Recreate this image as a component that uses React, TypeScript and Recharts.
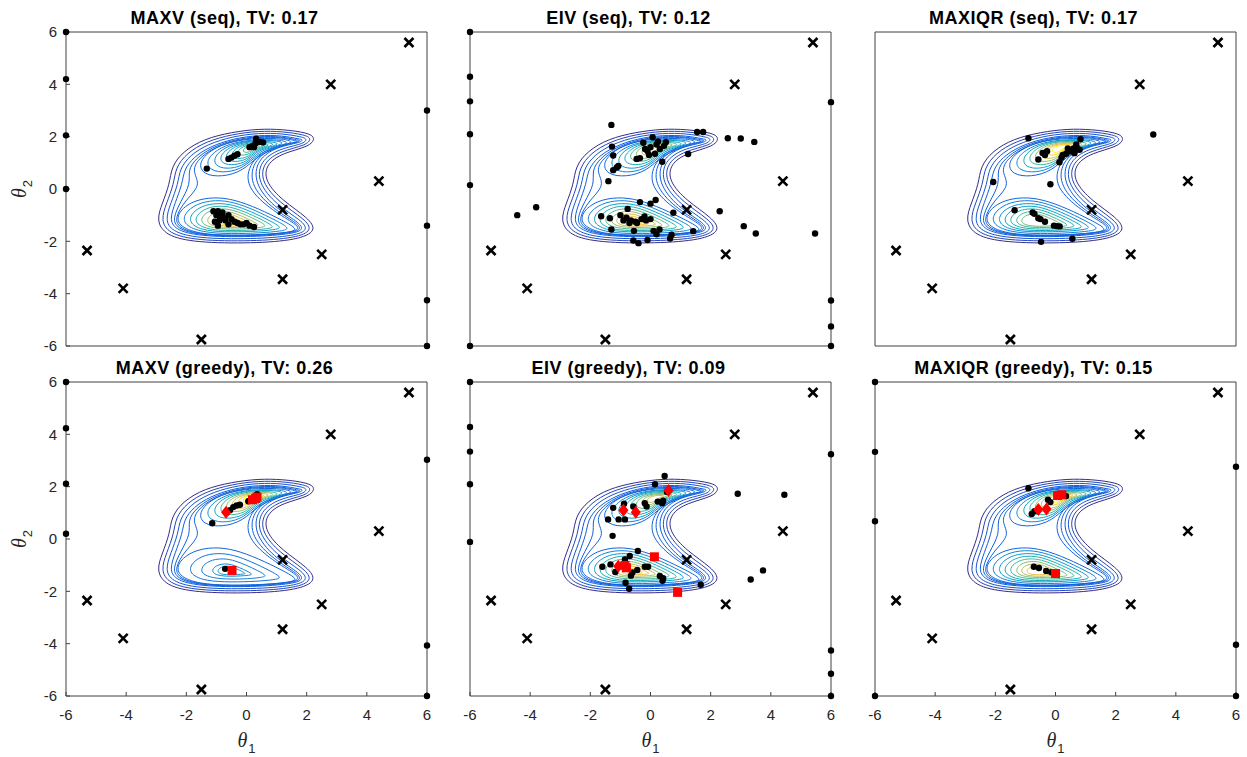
import React from 'react';
import { ComposedChart, Line, Scatter, XAxis, YAxis } from 'recharts';

type Pt = { x: number; y: number };
const toPts = (arr: number[][]): Pt[] => arr.map(([x, y]) => ({ x, y }));

const TICKS = [-6, -4, -2, 0, 2, 4, 6];

// candidate design points (x markers), same in every panel
const xMarks = [
  [5.4, 5.6], [2.8, 4.0], [4.4, 0.3], [1.2, -0.8], [2.5, -2.5],
  [1.2, -3.45], [-5.3, -2.35], [-4.1, -3.8], [-1.5, -5.75],
];

// contour rings: rings around the whole banana first
const ringO1 = [[2.3,1.95],[2.05,2.15],[1.2,2.28],[0.4,2.3],[-0.5,2.17],[-1.4,1.92],[-2.1,1.45],[-2.5,0.85],[-2.55,0.2],[-2.8,-0.55],[-3.0,-1.2],[-2.7,-1.78],[-1.7,-2.05],[0.2,-2.08],[1.7,-1.95],[2.35,-1.6],[2.05,-1.1],[1.2,-0.45],[0.6,0.3],[0.65,0.95],[1.2,1.38],[2.1,1.62]];
const ringO2 = [[2.16,1.93],[1.95,2.07],[1.2,2.2],[0.4,2.22],[-0.48,2.09],[-1.34,1.82],[-1.99,1.37],[-2.36,0.81],[-2.41,0.2],[-2.66,-0.55],[-2.85,-1.18],[-2.6,-1.7],[-1.67,-1.97],[0.2,-2.0],[1.66,-1.87],[2.2,-1.58],[1.95,-1.16],[1.1,-0.53],[0.48,0.28],[0.55,1.01],[1.14,1.46],[2.0,1.67]];
const ringO3 = [[2.02,1.91],[1.85,1.99],[1.2,2.12],[0.4,2.14],[-0.46,2.01],[-1.28,1.72],[-1.88,1.29],[-2.22,0.77],[-2.27,0.2],[-2.52,-0.55],[-2.7,-1.16],[-2.5,-1.62],[-1.64,-1.89],[0.2,-1.92],[1.62,-1.79],[2.05,-1.56],[1.85,-1.22],[1.0,-0.61],[0.36,0.26],[0.45,1.07],[1.08,1.54],[1.9,1.72]];
const ringO4 = [[1.88,1.89],[1.75,1.91],[1.2,2.04],[0.4,2.06],[-0.44,1.93],[-1.22,1.62],[-1.77,1.21],[-2.08,0.73],[-2.13,0.2],[-2.38,-0.55],[-2.55,-1.14],[-2.4,-1.54],[-1.61,-1.81],[0.2,-1.84],[1.58,-1.71],[1.9,-1.54],[1.75,-1.28],[0.9,-0.69],[0.24,0.24],[0.35,1.13],[1.02,1.62],[1.8,1.77]];
const ringO5 = [[1.8,1.86],[1.65,1.88],[1.2,2.0],[0.4,2.02],[-0.42,1.89],[-1.18,1.58],[-1.7,1.15],[-1.95,0.7],[-1.85,0.2],[-2.2,-0.5],[-2.45,-1.12],[-2.33,-1.5],[-1.6,-1.78],[0.2,-1.81],[1.54,-1.68],[1.83,-1.53],[1.68,-1.3],[0.82,-0.72],[0.08,0.2],[0.25,1.16],[0.98,1.64],[1.72,1.78]];
const ringO6 = [[1.72,1.83],[1.58,1.85],[1.2,1.97],[0.4,1.99],[-0.4,1.86],[-1.14,1.55],[-1.65,1.1],[-1.8,0.65],[-1.5,0.15],[-2.05,-0.45],[-2.38,-1.1],[-2.27,-1.47],[-1.6,-1.76],[0.2,-1.79],[1.5,-1.66],[1.77,-1.52],[1.62,-1.32],[0.75,-0.75],[-0.1,0.18],[0.18,1.18],[0.95,1.66],[1.65,1.79]];

// upper lobe, outer to inner
const upper1 = [[1.62,1.79],[1.25,1.92],[0.4,1.95],[-0.5,1.83],[-1.2,1.5],[-1.6,1.0],[-1.45,0.55],[-0.8,0.45],[-0.1,0.7],[0.35,1.25],[1.0,1.58]];
const upper2 = [[1.48,1.76],[1.12,1.88],[0.37,1.9],[-0.4,1.79],[-1.0,1.51],[-1.35,1.08],[-1.22,0.7],[-0.66,0.61],[-0.06,0.83],[0.33,1.3],[0.89,1.58]];
const upper3 = [[1.31,1.75],[1.0,1.85],[0.35,1.87],[-0.31,1.77],[-0.82,1.53],[-1.11,1.16],[-1.0,0.83],[-0.53,0.76],[-0.02,0.94],[0.31,1.34],[0.78,1.59]];
const upper4 = [[1.13,1.72],[0.87,1.81],[0.32,1.83],[-0.23,1.75],[-0.65,1.54],[-0.9,1.23],[-0.81,0.96],[-0.41,0.9],[0.02,1.05],[0.29,1.39],[0.69,1.59]];
const upper5 = [[0.96,1.7],[0.75,1.78],[0.3,1.79],[-0.15,1.72],[-0.5,1.55],[-0.7,1.3],[-0.63,1.08],[-0.3,1.03],[0.05,1.15],[0.28,1.43],[0.6,1.59]];
const upper6 = [[0.79,1.68],[0.63,1.74],[0.28,1.75],[-0.07,1.69],[-0.35,1.56],[-0.5,1.37],[-0.44,1.19],[-0.19,1.15],[0.08,1.25],[0.26,1.46],[0.51,1.59]];
const upper7 = [[0.63,1.66],[0.51,1.7],[0.26,1.71],[0.0,1.67],[-0.19,1.57],[-0.3,1.43],[-0.26,1.31],[-0.08,1.28],[0.12,1.35],[0.24,1.5],[0.42,1.59]];
const upper8 = [[0.47,1.64],[0.4,1.66],[0.24,1.67],[0.07,1.64],[-0.05,1.58],[-0.12,1.49],[-0.1,1.41],[0.02,1.39],[0.15,1.44],[0.23,1.54],[0.34,1.6]];

// lower lobe, outer to inner
const lower1 = [[1.75,-1.55],[1.2,-1.2],[0.4,-0.75],[-0.4,-0.4],[-1.1,-0.3],[-1.8,-0.45],[-2.3,-0.9],[-2.3,-1.4],[-1.6,-1.72],[-0.5,-1.78],[0.6,-1.74],[1.4,-1.66]];
const lower2 = [[1.47,-1.51],[0.99,-1.21],[0.29,-0.81],[-0.42,-0.5],[-1.03,-0.41],[-1.65,-0.55],[-2.09,-0.94],[-2.09,-1.38],[-1.47,-1.66],[-0.51,-1.72],[0.46,-1.68],[1.17,-1.61]];
const lower3 = [[1.2,-1.48],[0.78,-1.21],[0.17,-0.87],[-0.44,-0.6],[-0.97,-0.53],[-1.5,-0.64],[-1.88,-0.98],[-1.88,-1.36],[-1.35,-1.61],[-0.51,-1.65],[0.32,-1.62],[0.93,-1.56]];
const lower4 = [[0.95,-1.45],[0.59,-1.22],[0.07,-0.93],[-0.45,-0.7],[-0.91,-0.63],[-1.36,-0.73],[-1.69,-1.02],[-1.69,-1.35],[-1.23,-1.56],[-0.52,-1.6],[0.2,-1.57],[0.72,-1.52]];
const lower5 = [[0.69,-1.41],[0.4,-1.22],[-0.04,-0.98],[-0.47,-0.79],[-0.85,-0.74],[-1.23,-0.82],[-1.5,-1.06],[-1.5,-1.33],[-1.12,-1.5],[-0.52,-1.54],[0.07,-1.52],[0.5,-1.47]];
const lower6 = [[0.44,-1.38],[0.2,-1.23],[-0.14,-1.04],[-0.49,-0.88],[-0.79,-0.84],[-1.09,-0.91],[-1.3,-1.1],[-1.3,-1.32],[-1.0,-1.45],[-0.53,-1.48],[-0.06,-1.46],[0.29,-1.43]];
const lower7 = [[0.21,-1.35],[0.03,-1.23],[-0.24,-1.09],[-0.5,-0.97],[-0.73,-0.94],[-0.96,-0.99],[-1.13,-1.13],[-1.13,-1.3],[-0.9,-1.41],[-0.53,-1.43],[-0.17,-1.41],[0.09,-1.39]];
const lower8 = [[-0.02,-1.32],[-0.15,-1.24],[-0.33,-1.14],[-0.52,-1.05],[-0.68,-1.03],[-0.84,-1.07],[-0.95,-1.17],[-0.95,-1.29],[-0.79,-1.36],[-0.54,-1.37],[-0.29,-1.36],[-0.1,-1.34]];
const lower9 = [[-0.25,-1.29],[-0.32,-1.24],[-0.43,-1.19],[-0.53,-1.14],[-0.62,-1.13],[-0.71,-1.15],[-0.78,-1.2],[-0.78,-1.27],[-0.69,-1.31],[-0.54,-1.32],[-0.4,-1.31],[-0.3,-1.3]];

const outerRings = [ringO1, ringO2, ringO3, ringO4, ringO5, ringO6];
const upperRings = [upper1, upper2, upper3, upper4, upper5, upper6, upper7, upper8];
const lowerRings = [lower1, lower2, lower3, lower4, lower5, lower6, lower7, lower8, lower9];

// panel 1: MAXV (seq)
const maxvSeqDots = [
  [-6,6],[-6,4.2],[-6,2.05],[-6,0],[6,3.0],[6,-1.4],[6,-4.25],[6,-6],
  [-1.32,0.78],[-0.6,1.15],[-0.5,1.2],[-0.4,1.27],[-0.3,1.33],[0.1,1.6],[0.2,1.65],[0.3,1.75],[0.32,1.92],[0.45,1.8],[0.55,1.78],[0.25,1.6],
  [-1.1,-0.85],[-0.95,-0.85],[-0.8,-0.9],[-1.0,-1.0],[-0.85,-1.05],[-1.05,-1.25],[-0.9,-1.2],[-0.7,-1.2],[-0.6,-1.0],[-0.5,-1.15],
  [-0.4,-1.25],[-0.3,-1.3],[-0.2,-1.35],[-0.1,-1.35],[0.0,-1.3],[0.1,-1.4],[0.25,-1.45],[-0.6,-1.35],[-0.95,-1.4],[-0.75,-1.1],
];
// panel 2: EIV (seq)
const eivSeqDots = [
  [-6,6],[-6,4.29],[-6,3.35],[-6,2.09],[-6,0.15],[-6,-6],[6,3.32],[6,-4.26],[6,-5.25],[6,-6],
  [-1.3,2.45],[1.55,2.18],[1.75,2.18],[2.57,1.94],[3.0,1.93],[3.45,1.8],[5.47,-1.7],[2.3,-0.85],[3.1,-1.42],[3.5,-1.7],[-4.43,-1.0],[-3.8,-0.7],[-1.4,0.3],
  [-1.28,1.62],[-1.24,1.28],[-1.07,0.88],[-1.12,0.82],[-1.24,0.72],[0.07,1.98],[-0.24,1.77],[-0.46,1.15],[-0.35,1.18],[-0.18,1.53],[-0.1,1.45],
  [0.2,1.7],[0.31,1.53],[0.51,1.79],[0.39,1.04],[1.25,1.34],[0.0,1.6],[0.15,1.35],[-0.05,1.3],[0.45,1.65],[0.25,1.82],
  [-1.64,-1.04],[-1.3,-1.55],[-1.35,-1.12],[-0.76,-0.76],[-0.35,-0.5],[0.17,-0.42],[0.0,-0.56],[0.76,-0.91],[1.42,-1.61],[0.7,-1.75],
  [0.65,-1.89],[-0.57,-1.97],[-0.4,-2.07],[-0.1,-1.95],[0.2,-1.73],[-1.0,-1.0],[-0.8,-1.1],[-0.65,-1.2],[-0.5,-1.25],[-0.3,-1.15],
  [-0.15,-1.2],[0.0,-1.15],[-0.45,-1.3],[-0.7,-1.3],[0.1,-1.6],[-0.55,-1.6],[0.3,-1.55],[-0.2,-1.05],[-0.9,-1.2],
];
// panel 3: MAXIQR (seq)
const maxiqrSeqDots = [
  [3.25,2.08],[-0.9,1.94],[-2.07,0.27],[-0.17,0.18],[-1.36,-0.81],[-0.48,-2.02],[0.56,-1.9],
  [-0.76,-0.9],[-0.7,-0.95],[-0.57,-1.12],[-0.5,-1.15],[-0.35,-1.25],[-0.05,-1.4],[0.05,-1.42],[0.14,-1.43],
  [-0.57,1.13],[-0.43,1.38],[-0.28,1.44],[-0.35,1.3],[0.13,1.02],[0.24,1.3],[0.35,1.35],[0.52,1.44],[0.69,1.7],[0.83,1.9],
  [0.8,1.5],[0.63,1.37],[0.41,1.55],[0.7,1.6],[0.6,1.55],[0.2,1.2],
];
// panel 4: MAXV (greedy)
const maxvGreedyDots = [
  [-6,6],[-6,4.23],[-6,2.11],[-6,0.2],[6,3.03],[6,-4.07],[6,-6],
  [-1.14,0.6],[-0.66,1.0],[-0.55,1.1],[-0.44,1.22],[-0.33,1.28],[-0.22,1.31],[0.06,1.44],[0.35,1.71],[-0.71,-1.14],
];
const maxvGreedyDiamonds = [[-0.68,1.02]];
const maxvGreedySquares = [[0.2,1.5],[0.3,1.55],[0.35,1.6],[-0.48,-1.2]];
// panel 5: EIV (greedy)
const eivGreedyDots = [
  [-6,6],[-6,4.28],[-6,3.34],[-6,2.09],[-6,-0.11],[6,3.24],[6,-4.26],[6,-5.15],[6,-6],
  [0.47,2.41],[0.15,2.09],[2.9,1.73],[4.45,1.69],[3.33,-1.55],[3.74,-1.2],[1.67,-1.75],[-1.26,0.12],
  [-1.41,0.75],[-1.06,0.75],[-0.85,0.75],[-1.24,1.19],[-0.88,1.35],[-0.57,1.24],[-0.19,1.37],[-0.13,1.24],[0.24,1.43],[0.39,1.37],[0.42,1.46],[0.55,1.8],
  [-1.6,-1.06],[-1.33,-0.97],[-1.17,-1.26],[-0.83,-1.67],[-0.71,-1.9],[-0.69,-0.65],[-0.42,-0.46],[-0.6,-1.28],[-0.44,-1.18],[-0.19,-1.06],
  [-0.08,-1.06],[0.31,-1.41],[0.4,-1.6],[0.42,-1.5],[-0.85,-0.78],[-0.65,-1.4],
];
const eivGreedyDiamonds = [[-0.9,1.1],[-0.49,1.02],[0.6,1.85],[-1.07,-1.04]];
const eivGreedySquares = [[-0.85,-1.01],[-0.8,-1.1],[0.13,-0.68],[0.9,-2.04]];
// panel 6: MAXIQR (greedy)
const maxiqrGreedyDots = [
  [-6,6],[-6,3.33],[-6,0.68],[-6,-6],[6,2.76],[6,-4.04],[6,-6],
  [-0.9,1.94],[-0.79,0.96],[-0.7,1.06],[-0.17,1.41],[0.07,1.64],[0.35,1.64],[-0.25,1.5],
  [-0.72,-1.06],[-0.55,-1.11],[-0.31,-1.22],[-0.14,-1.27],
];
const maxiqrGreedyDiamonds = [[-0.57,1.13],[-0.3,1.15]];
const maxiqrGreedySquares = [[0.07,1.66],[0.21,1.69],[0.0,-1.32]];

const ALL_UP = [0, 1, 2, 3, 4, 5, 6, 7];
const ALL_LOW = [0, 1, 2, 3, 4, 5, 6, 7, 8];

const panels = [
  { title: 'MAXV (seq), TV: 0.17', col: 0, row: 0, dots: maxvSeqDots, diamonds: [], squares: [], up: ALL_UP, upPeak: 0.55, low: ALL_LOW, lowPeak: 1.0 },
  { title: 'EIV (seq), TV: 0.12', col: 1, row: 0, dots: eivSeqDots, diamonds: [], squares: [], up: ALL_UP, upPeak: 0.8, low: ALL_LOW, lowPeak: 0.95 },
  { title: 'MAXIQR (seq), TV: 0.17', col: 2, row: 0, dots: maxiqrSeqDots, diamonds: [], squares: [], up: ALL_UP, upPeak: 1.0, low: [0, 1, 2, 3, 4, 5, 6], lowPeak: 0.6 },
  { title: 'MAXV (greedy), TV: 0.26', col: 0, row: 1, dots: maxvGreedyDots, diamonds: maxvGreedyDiamonds, squares: maxvGreedySquares, up: ALL_UP, upPeak: 1.0, low: [0, 2, 4, 6, 7], lowPeak: 0.32 },
  { title: 'EIV (greedy), TV: 0.09', col: 1, row: 1, dots: eivGreedyDots, diamonds: eivGreedyDiamonds, squares: eivGreedySquares, up: ALL_UP, upPeak: 0.75, low: ALL_LOW, lowPeak: 0.9 },
  { title: 'MAXIQR (greedy), TV: 0.15', col: 2, row: 1, dots: maxiqrGreedyDots, diamonds: maxiqrGreedyDiamonds, squares: maxiqrGreedySquares, up: ALL_UP, upPeak: 0.95, low: [0, 1, 2, 3, 4, 5, 6, 7], lowPeak: 0.8 },
];

// parula colour map stops
const PARULA = ['#352a87', '#0f5cdd', '#1481d6', '#06a4ca', '#2eb7a4', '#87bf77', '#d1bb59', '#fec832', '#f9fb0e'];
const hex = (h: string) => [1, 3, 5].map((i) => parseInt(h.slice(i, i + 2), 16));
const parula = (t: number) => {
  const s = Math.max(0, Math.min(1, t)) * (PARULA.length - 1);
  const i = Math.min(PARULA.length - 2, Math.floor(s));
  const f = s - i;
  const a = hex(PARULA[i]);
  const b = hex(PARULA[i + 1]);
  const c = a.map((v, k) => Math.round(v + (b[k] - v) * f));
  return `rgb(${c[0]},${c[1]},${c[2]})`;
};
const OUTER_T = [0.0, 0.07, 0.105, 0.125, 0.14, 0.15];

const COL_X = [66, 470, 875];
const ROW_Y = [32, 382];
const PW = 361;
const PH = 314;
const ML = 60, MT = 10, MR = 10, MB = 50;
const AXIS = '#404040';
const FONT = '"Liberation Sans", Arial, Helvetica, sans-serif';
const tickStyle = { fill: '#262626', fontSize: 15, fontFamily: FONT };

const DotShape = (p: any) => <circle cx={p.cx} cy={p.cy} r={3.2} fill="#000" />;
const CrossShape = (p: any) => (
  <g stroke="#000" strokeWidth={2.6}>
    <line x1={p.cx - 4.5} y1={p.cy - 4.5} x2={p.cx + 4.5} y2={p.cy + 4.5} />
    <line x1={p.cx - 4.5} y1={p.cy + 4.5} x2={p.cx + 4.5} y2={p.cy - 4.5} />
  </g>
);
const SquareShape = (p: any) => <rect x={p.cx - 4.5} y={p.cy - 4.5} width={9} height={9} fill="#ff0000" />;
const DiamondShape = (p: any) => (
  <polygon
    points={`${p.cx},${p.cy - 6.5} ${p.cx + 5},${p.cy} ${p.cx},${p.cy + 6.5} ${p.cx - 5},${p.cy}`}
    fill="#ff0000"
  />
);

const lobeColor = (i: number, n: number, peak: number) => parula(0.16 + (peak - 0.16) * (n > 1 ? i / (n - 1) : 1));

const Panel = ({ cfg }: { cfg: any }) => {
  const rings: { pts: Pt[]; color: string }[] = [];
  outerRings.forEach((r, i) => rings.push({ pts: toPts(r), color: parula(OUTER_T[i]) }));
  cfg.up.forEach((k: number, i: number) =>
    rings.push({ pts: toPts(upperRings[k]), color: lobeColor(i, cfg.up.length, cfg.upPeak) }));
  cfg.low.forEach((k: number, i: number) =>
    rings.push({ pts: toPts(lowerRings[k]), color: lobeColor(i, cfg.low.length, cfg.lowPeak) }));

  return (
    <div style={{ position: 'absolute', left: COL_X[cfg.col] - ML, top: ROW_Y[cfg.row] - MT }}>
      <ComposedChart
        width={PW + ML + MR}
        height={PH + MT + MB}
        margin={{ top: MT - 1, right: MR - 1, bottom: MB - 1, left: ML - 1 }}
      >
        <XAxis
          dataKey="x" type="number" domain={[-6, 6]} ticks={TICKS} interval={0} height={1}
          tickSize={-4} tickMargin={17} axisLine={{ stroke: AXIS }} tickLine={{ stroke: AXIS }}
          tick={cfg.row === 1 ? tickStyle : false}
        />
        <XAxis
          xAxisId="top" orientation="top" type="number" domain={[-6, 6]} ticks={TICKS} interval={0} height={1}
          tickSize={-4} axisLine={{ stroke: AXIS }} tickLine={{ stroke: AXIS }} tick={false}
        />
        <YAxis
          dataKey="y" type="number" domain={[-6, 6]} ticks={TICKS} interval={0} width={1}
          tickSize={-4} tickMargin={13} axisLine={{ stroke: AXIS }} tickLine={{ stroke: AXIS }}
          tick={cfg.col === 0 ? tickStyle : false}
        />
        <YAxis
          yAxisId="right" orientation="right" type="number" domain={[-6, 6]} ticks={TICKS} interval={0} width={1}
          tickSize={-4} axisLine={{ stroke: AXIS }} tickLine={{ stroke: AXIS }} tick={false}
        />
        {rings.map((r, i) => (
          <Line
            key={'r' + i} data={r.pts} dataKey="y" type="basisClosed" stroke={r.color}
            strokeWidth={1} dot={false} activeDot={false} isAnimationActive={false}
          />
        ))}
        <Scatter data={toPts(cfg.dots)} shape={DotShape} isAnimationActive={false} />
        <Scatter data={toPts(xMarks)} shape={CrossShape} isAnimationActive={false} />
        <Scatter data={toPts(cfg.diamonds)} shape={DiamondShape} isAnimationActive={false} />
        <Scatter data={toPts(cfg.squares)} shape={SquareShape} isAnimationActive={false} />
      </ComposedChart>
    </div>
  );
};

const Theta = ({ sub }: { sub: string }) => (
  <span style={{ whiteSpace: 'nowrap', color: '#262626' }}>
    <span style={{ fontFamily: '"Liberation Serif", "Times New Roman", serif', fontStyle: 'italic', fontSize: 20 }}>θ</span>
    <span style={{ fontFamily: FONT, fontSize: 13, position: 'relative', top: 6, marginLeft: 1 }}>{sub}</span>
  </span>
);

export default function App() {
  return (
    <div style={{ position: 'absolute', left: 0, top: 0, width: 1247, height: 757, background: '#fff', overflow: 'hidden' }}>
      {panels.map((p, i) => (
        <Panel key={i} cfg={p} />
      ))}
      {panels.map((p, i) => (
        <div
          key={'t' + i}
          style={{
            position: 'absolute',
            left: COL_X[p.col] + PW / 2 - 22,
            top: ROW_Y[p.row] - 23.3,
            transform: 'translateX(-50%)',
            whiteSpace: 'nowrap',
            fontFamily: FONT,
            fontWeight: 'bold',
            fontSize: 18,
            lineHeight: '18px',
            letterSpacing: 0.5,
            color: '#000',
          }}
        >
          {p.title}
        </div>
      ))}
      {COL_X.map((x, i) => (
        <div key={'xl' + i} style={{ position: 'absolute', left: x + PW / 2, top: 741, transform: 'translate(-50%, -50%)', lineHeight: '20px' }}>
          <Theta sub="1" />
        </div>
      ))}
      {ROW_Y.map((y, i) => (
        <div key={'yl' + i} style={{ position: 'absolute', left: 20, top: y + PH / 2, transform: 'translate(-50%, -50%) rotate(-90deg)', lineHeight: '20px' }}>
          <Theta sub="2" />
        </div>
      ))}
    </div>
  );
}
